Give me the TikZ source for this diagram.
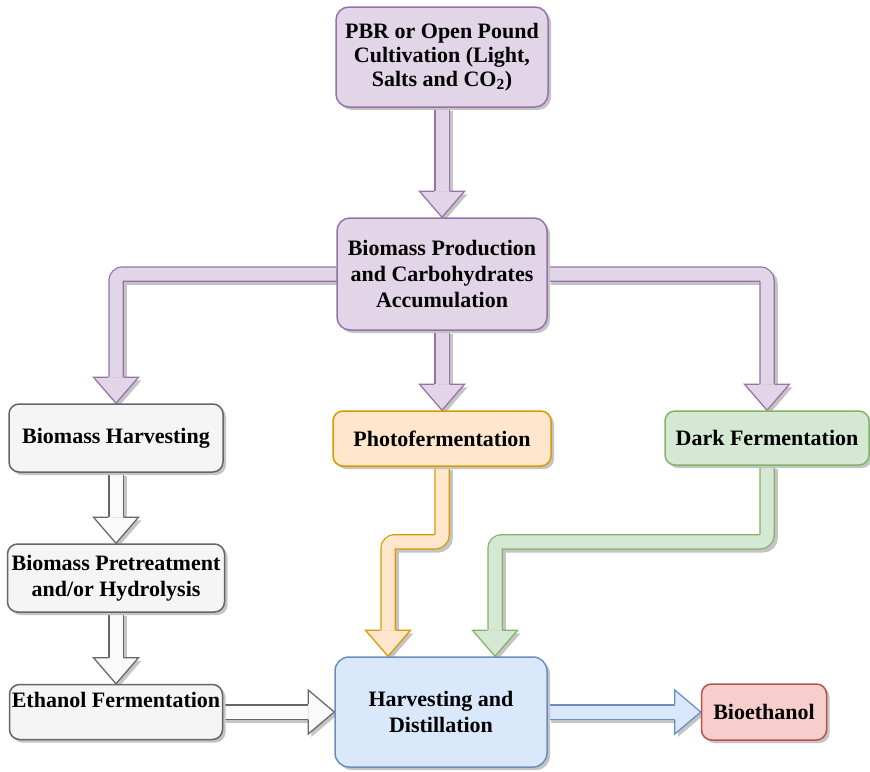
\documentclass[tikz,border=0pt]{standalone}
\usepackage{fontspec}
\setmainfont{Liberation Serif}
\usetikzlibrary{calc,shadows}

\pgfdeclarelayer{bg}
\pgfsetlayers{bg,main}

% palette
\definecolor{purpleF}{HTML}{E1D5E7}
\definecolor{purpleD}{HTML}{9673A6}
\definecolor{orangeF}{HTML}{FFE6CC}
\definecolor{orangeD}{HTML}{D79B00}
\definecolor{greenF}{HTML}{D5E8D4}
\definecolor{greenD}{HTML}{82B366}
\definecolor{blueF}{HTML}{DAE8FC}
\definecolor{blueD}{HTML}{6C8EBF}
\definecolor{redF}{HTML}{F8CECC}
\definecolor{redD}{HTML}{B85450}
\definecolor{grayF}{HTML}{F5F5F5}
\definecolor{grayD}{HTML}{666666}
\definecolor{arrowW}{HTML}{FAFAFA}
\definecolor{shadowgray}{HTML}{C4C4C4}

\tikzset{
  box/.style={rounded corners=10pt, line width=1.5pt, align=center,
    inner sep=0pt, font={\fontsize{22}{26}\selectfont\bfseries},
    drop shadow={shadow xshift=3pt, shadow yshift=-3pt, fill=shadowgray, opacity=1}},
  purplebox/.style={box, fill=purpleF, draw=purpleD, rounded corners=13pt},
  graybox/.style={box, fill=grayF, draw=grayD},
  orangebox/.style={box, fill=orangeF, draw=orangeD},
  greenbox/.style={box, fill=greenF, draw=greenD},
  bluebox/.style={box, fill=blueF, draw=blueD, rounded corners=14pt},
  redbox/.style={box, fill=redF, draw=redD},
  shaftout/.style={line width=15.5pt, rounded corners=7pt},
  shaftin/.style={line width=13pt, rounded corners=7pt},
  headline/.style={line width=1.25pt, line join=miter},
}

% block arrow whose head points down: #1 fill, #2 border, #3 shaft path, #4 tip
\newcommand\blockarrowdown[4]{%
  \begin{scope}[transform canvas={xshift=3pt,yshift=-3pt}]
    \draw[shaftout, draw=shadowgray] #3;
    \fill[fill=shadowgray] ($(#4)+(-22.5,-26)$) -- (#4) -- ($(#4)+(22.5,-26)$) -- cycle;
  \end{scope}
  \draw[shaftout, draw=#2] #3;
  \draw[shaftin, draw=#1] #3;
  \filldraw[headline, fill=#1, draw=#2]
    ($(#4)+(-7.6,-26)$) -- ($(#4)+(-22.5,-26)$) -- (#4)
    -- ($(#4)+(22.5,-26)$) -- ($(#4)+(7.6,-26)$);
}

% block arrow whose head points right
\newcommand\blockarrowright[4]{%
  \begin{scope}[transform canvas={xshift=3pt,yshift=-3pt}]
    \draw[shaftout, draw=shadowgray] #3;
    \fill[fill=shadowgray] ($(#4)+(-26,-22)$) -- (#4) -- ($(#4)+(-26,22)$) -- cycle;
  \end{scope}
  \draw[shaftout, draw=#2] #3;
  \draw[shaftin, draw=#1] #3;
  \filldraw[headline, fill=#1, draw=#2]
    ($(#4)+(-26,-7.6)$) -- ($(#4)+(-26,-22)$) -- (#4)
    -- ($(#4)+(-26,22)$) -- ($(#4)+(-26,7.6)$);
}

\begin{document}
\begin{tikzpicture}[x=1pt, y=-1pt]
  \useasboundingbox (0,0) rectangle (870,771);
  \begin{pgfonlayer}{bg}
    \fill[white] (0,0) rectangle (870,771);
  \end{pgfonlayer}

  % process boxes
  \node[purplebox, minimum width=212pt, minimum height=100pt] (pbr) at (442,57)
    {PBR or Open Pound\\[-2pt]Cultivation (Light,\\[-2pt]Salts and CO\textsubscript{2})};
  \node[purplebox, minimum width=210pt, minimum height=112pt] (biom) at (442,274)
    {Biomass Production\\and Carbohydrates\\Accumulation};

  \node[graybox, minimum width=214pt, minimum height=68pt] (harv) at (116,438)
    {Biomass Harvesting};
  \node[graybox, minimum width=217pt, minimum height=68pt] (pret) at (116,578)
    {Biomass Pretreatment\\and/or Hydrolysis};
  \node[graybox, minimum width=213pt, minimum height=55pt,
        text height=15pt, text depth=24pt] (ethf) at (116,712)
    {Ethanol Fermentation};

  \node[orangebox, minimum width=218pt, minimum height=55pt] (photo) at (442,438.5)
    {Photofermentation};
  \node[greenbox, minimum width=204pt, minimum height=54pt] (dark) at (767,438)
    {Dark Fermentation};

  \node[bluebox, minimum width=212pt, minimum height=110pt] (dist) at (441,712)
    {Harvesting and\\Distillation};
  \node[redbox, minimum width=125pt, minimum height=56pt] (bio) at (764,712)
    {Bioethanol};

  \coordinate (otip) at ($(dist.north)+(-53,0)$);
  \coordinate (gtip) at ($(dist.north)+(54,0)$);

  % connectors
  \begin{pgfonlayer}{bg}
    \blockarrowdown{purpleF}{purpleD}{(pbr.south) -- ($(biom.north)+(0,-26)$)}{biom.north}
    \blockarrowdown{purpleF}{purpleD}{(biom.west) -| ($(harv.north)+(0,-26)$)}{harv.north}
    \blockarrowdown{purpleF}{purpleD}{(biom.south) -- ($(photo.north)+(0,-26)$)}{photo.north}
    \blockarrowdown{purpleF}{purpleD}{(biom.east) -| ($(dark.north)+(0,-26)$)}{dark.north}

    \blockarrowdown{arrowW}{grayD}{(harv.south) -- ($(pret.north)+(0,-26)$)}{pret.north}
    \blockarrowdown{arrowW}{grayD}{(pret.south) -- ($(ethf.north)+(0,-26)$)}{ethf.north}

    \blockarrowdown{orangeF}{orangeD}{(photo.south) -- ++(0,75) -| ($(otip)+(0,-26)$)}{otip}
    \blockarrowdown{greenF}{greenD}{(dark.south) -- ++(0,76) -| ($(gtip)+(0,-26)$)}{gtip}

    \blockarrowright{arrowW}{grayD}{(ethf.east) -- ($(dist.west)+(-26,0)$)}{dist.west}
    \blockarrowright{blueF}{blueD}{(dist.east) -- ($(bio.west)+(-26,0)$)}{bio.west}
  \end{pgfonlayer}
\end{tikzpicture}
\end{document}
